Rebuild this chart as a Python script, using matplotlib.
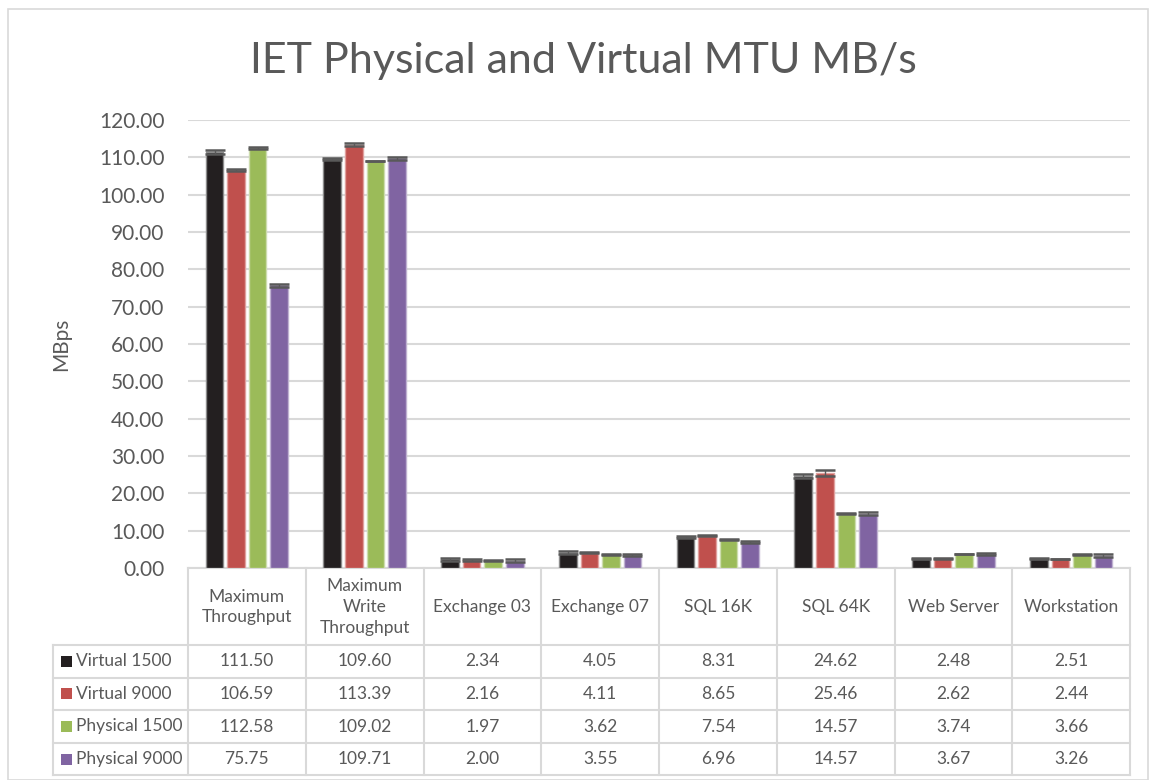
import numpy as np
import matplotlib
matplotlib.use("Agg")
import matplotlib.pyplot as plt
from matplotlib.transforms import blended_transform_factory
from matplotlib.patches import Rectangle

plt.rcParams['font.family'] = ['Lato', 'DejaVu Sans']

# data
categories = ["Maximum\nThroughput", "Maximum\nWrite\nThroughput", "Exchange 03",
              "Exchange 07", "SQL 16K", "SQL 64K", "Web Server", "Workstation"]
series_names = ["Virtual 1500", "Virtual 9000", "Physical 1500", "Physical 9000"]
virtual_1500 = [111.50, 109.60, 2.34, 4.05, 8.31, 24.62, 2.48, 2.51]
virtual_9000 = [106.59, 113.39, 2.16, 4.11, 8.65, 25.46, 2.62, 2.44]
physical_1500 = [112.58, 109.02, 1.97, 3.62, 7.54, 14.57, 3.74, 3.66]
physical_9000 = [75.75, 109.71, 2.00, 3.55, 6.96, 14.57, 3.67, 3.26]
# error bar half-widths
err_v1500 = [0.5, 0.2, 0.4, 0.4, 0.3, 0.5, 0.2, 0.2]
err_v9000 = [0.2, 0.4, 0.2, 0.2, 0.2, 0.7, 0.1, 0.1]
err_p1500 = [0.3, 0.1, 0.1, 0.1, 0.1, 0.1, 0.1, 0.1]
err_p9000 = [0.4, 0.3, 0.3, 0.3, 0.3, 0.3, 0.3, 0.4]
colors = ["#231F20", "#C0504D", "#9BBB59", "#8064A2"]
edge_colors = ["#8c8c8c", "#e0a09e", "#cddcae", "#bfb1d1"]

series = [virtual_1500, virtual_9000, physical_1500, physical_9000]
errors = [err_v1500, err_v9000, err_p1500, err_p9000]

W, H = 1149, 780
fig = plt.figure(figsize=(W / 100, H / 100), dpi=100)
ax = fig.add_axes([188 / W, 1 - 568 / H, (1130 - 188) / W, (568 - 120) / H])

txt = "#595959"
grid = "#D9D9D9"

x = np.arange(len(categories))
bw = 0.15
step = 0.183
for i, (vals, errs) in enumerate(zip(series, errors)):
    pos = x + (i - 1.5) * step
    ax.bar(pos, vals, bw, color=colors[i], edgecolor=edge_colors[i], linewidth=1.0, zorder=3)
    ax.errorbar(pos, vals, yerr=errs, fmt="none", ecolor="#595959", elinewidth=1.0,
                capsize=7, capthick=1.8, zorder=4)

ax.set_xlim(-0.5, len(categories) - 0.5)
ax.set_ylim(0, 120)
ax.set_yticks(np.arange(0, 121, 10))
ax.set_yticklabels([f"{v:.2f}" for v in np.arange(0, 121, 10)], fontsize=15, color=txt)
ax.yaxis.grid(True, color=grid, linewidth=1.5, zorder=0)
ax.set_xticks([])
ax.tick_params(axis="y", length=0, pad=17)
for s in ["top", "right", "left"]:
    ax.spines[s].set_visible(False)
ax.spines["bottom"].set_color(grid)
ax.spines["bottom"].set_linewidth(1.5)

ax.set_ylabel("MBps", fontsize=15, color=txt, labelpad=20)
fig.text(583 / W, 1 - 61 / H, "IET Physical and Virtual MTU MB/s", fontsize=31,
         color=txt, ha="center", va="center")

# data table below the plot
fy = lambda py: 1 - py / H
tr = blended_transform_factory(ax.transData, fig.transFigure)
trf = fig.transFigure
lc = grid
lw = 1.5
row_edges = [568, 645, 677.5, 710, 743, 775]
left_x = 53 / W
x_edges = np.arange(len(categories) + 1) - 0.5

# vertical lines at category boundaries
for xe in x_edges:
    fig.add_artist(plt.Line2D([xe, xe], [fy(568), fy(775)], transform=tr, color=lc, lw=lw))
# label column left edge
fig.add_artist(plt.Line2D([left_x, left_x], [fy(645), fy(775)], transform=trf, color=lc, lw=lw))
# horizontal lines
for py in row_edges[1:]:
    fig.add_artist(plt.Line2D([left_x, 1130 / W], [fy(py), fy(py)], transform=trf, color=lc, lw=lw))

# header text
for xi, cat in zip(x, categories):
    fig.text(xi, fy(607), cat, transform=tr, ha="center", va="center",
             fontsize=12.5, color=txt, linespacing=1.35)

# rows
for r, (name, vals) in enumerate(zip(series_names, series)):
    yc = fy((row_edges[r + 1] + row_edges[r + 2]) / 2)
    fig.add_artist(Rectangle((61 / W, yc - 5.5 / H), 11 / W, 11 / H, transform=trf,
                             facecolor=colors[r], edgecolor="none"))
    fig.text(76 / W, yc, name, transform=trf, ha="left", va="center", fontsize=12.5, color=txt)
    for xi, v in zip(x, vals):
        fig.text(xi, yc, f"{v:.2f}", transform=tr, ha="center", va="center",
                 fontsize=12.5, color=txt)

# outer chart border
fig.add_artist(Rectangle((8 / W, 0), (W - 9) / W, 1 - 9 / H, transform=trf,
                         facecolor="none", edgecolor=grid, lw=1.2))

fig.savefig("out.png", dpi=100)
